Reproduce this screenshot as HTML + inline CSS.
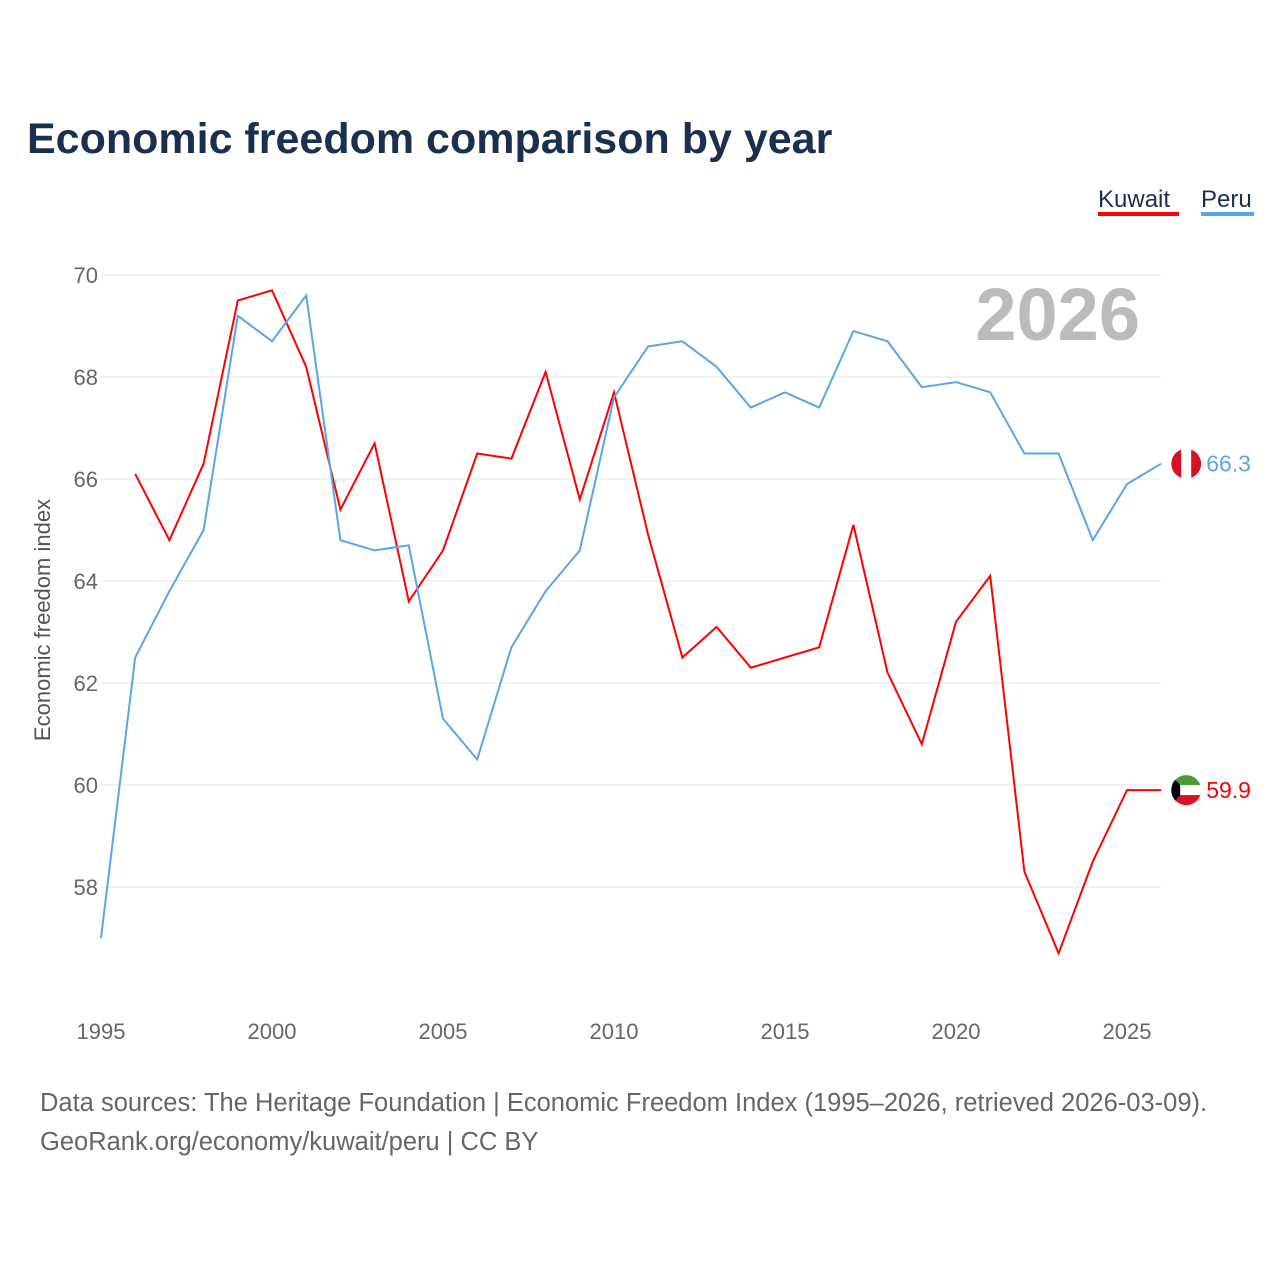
<!DOCTYPE html>
<html><head><meta charset="utf-8"><style>
body{margin:0;background:#fff;font-family:"Liberation Sans",sans-serif}
svg text{font-family:"Liberation Sans",sans-serif}
</style></head><body>
<svg id="c" width="1280" height="1280" xmlns="http://www.w3.org/2000/svg">
<text x="27" y="153" font-size="43" font-weight="bold" fill="#1b2f4e">Economic freedom comparison by year</text>
<g>
<text x="1098" y="207" font-size="24" fill="#1b2f4e">Kuwait</text>
<rect x="1098" y="212" width="81" height="4" fill="#f00"/>
<text x="1201" y="207" font-size="24" fill="#1b2f4e">Peru</text>
<rect x="1201" y="212" width="53" height="4" fill="#5aa5ea"/>
</g>
<text x="1140" y="340" font-size="74" font-weight="bold" fill="#bbb" text-anchor="end">2026</text>
<g id="grid"></g><g id="lines"></g>
<text transform="translate(50,620) rotate(-90)" font-size="22" fill="#555" text-anchor="middle">Economic freedom index</text>
<text x="40" y="1111" font-size="25.5" fill="#666">Data sources: The Heritage Foundation | Economic Freedom Index (1995–2026, retrieved 2026-03-09).</text>
<text x="40" y="1150" font-size="25.5" fill="#666">GeoRank.org/economy/kuwait/peru | CC BY</text>
</svg>
<script>
const years=[1995,1996,1997,1998,1999,2000,2001,2002,2003,2004,2005,2006,2007,2008,2009,2010,2011,2012,2013,2014,2015,2016,2017,2018,2019,2020,2021,2022,2023,2024,2025,2026];
const kuwait=[null,66.1,64.8,66.3,69.5,69.7,68.2,65.4,66.7,63.6,64.6,66.5,66.4,68.1,65.6,67.7,64.9,62.5,63.1,62.3,62.5,62.7,65.1,62.2,60.8,63.2,64.1,58.3,56.7,58.5,59.9,59.9];
const peru=[57.0,62.5,63.8,65.0,69.2,68.7,69.6,64.8,64.6,64.7,61.3,60.5,62.7,63.8,64.6,67.6,68.6,68.7,68.2,67.4,67.7,67.4,68.9,68.7,67.8,67.9,67.7,66.5,66.5,64.8,65.9,66.3];
const yTicks=[58,60,62,64,66,68,70];
const xTicks=[1995,2000,2005,2010,2015,2020,2025];
const NS="http://www.w3.org/2000/svg";
const X=y=>101+(y-1995)*34.2;
const Y=v=>785-(v-60)*51;
function mk(t,a,p){const e=document.createElementNS(NS,t);for(const k in a)e.setAttribute(k,a[k]);p.appendChild(e);return e;}
const g=document.getElementById('grid'),L=document.getElementById('lines');
yTicks.forEach(v=>{
 const l=mk('line',{x1:101,x2:1161,y1:Y(v),y2:Y(v),stroke:'#e6e6e6','stroke-width':1},g);
 
 
 const t=mk('text',{x:98,y:Y(v)+8,'font-size':22,fill:'#666','text-anchor':'end'},g);t.textContent=v;
 
 
});
xTicks.forEach(v=>{
 const t=mk('text',{x:X(v),y:1039,'font-size':22,fill:'#666','text-anchor':'middle'},g);t.textContent=v;
 
 
});
function line(data,col,name){
 let d='';data.forEach((v,i)=>{if(v==null)return;d+=(d?'L':'M')+X(years[i])+','+Y(v);});
 const p=mk('path',{d:d,fill:'none',stroke:col,'stroke-width':2},L);
 
 
 const last=data[data.length-1],lx=X(years[years.length-1])+25,ly=Y(last);
 const t=mk('text',{x:lx+20,y:ly+8,'font-size':23,fill:col},L);t.textContent=last.toFixed(1);
 
 
 return [lx,ly];
}
const [kx,ky]=line(kuwait,'#f00','kuwait');
const [px,py]=line(peru,'#5aa5ea','peru');
const pf=mk('g',{},L);


mk('circle',{cx:px,cy:py,r:15,fill:'#fff'},pf);
mk('path',{d:`M${px-5},${py-14.1}A15,15 0 0 0 ${px-5},${py+14.1}Z`,fill:'#d91023'},pf);
mk('path',{d:`M${px+5},${py-14.1}A15,15 0 0 1 ${px+5},${py+14.1}Z`,fill:'#d91023'},pf);
const kf=mk('g',{},L);


mk('defs',{},kf).innerHTML=`<clipPath id="kc"><circle cx="${kx}" cy="${ky}" r="15"/></clipPath>`;
const kg=mk('g',{'clip-path':'url(#kc)'},kf);
mk('rect',{x:kx-15,y:ky-15,width:30,height:10,fill:'#4e9a3a'},kg);
mk('rect',{x:kx-15,y:ky-5,width:30,height:10,fill:'#fff'},kg);
mk('rect',{x:kx-15,y:ky+5,width:30,height:10,fill:'#d91023'},kg);
mk('path',{d:`M${kx-15},${ky-15}L${kx-6},${ky-5}L${kx-6},${ky+5}L${kx-15},${ky+15}Z`,fill:'#000'},kg);
</script>
</body></html>
